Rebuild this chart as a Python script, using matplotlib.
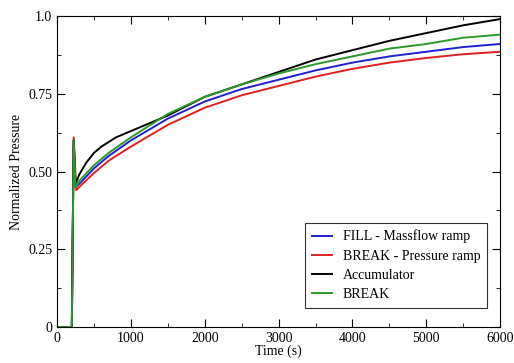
import matplotlib.pyplot as plt
from matplotlib.ticker import MultipleLocator

plt.rcParams["font.family"] = ["Liberation Serif", "DejaVu Serif"]

# time points (s) and normalized pressure
t_fill = [0, 200, 225, 250, 300, 500, 700, 1000, 1500, 2000, 2500, 3000, 3500, 4000, 4500, 5000, 5500, 6000]
p_fill = [0, 0, 0.60, 0.45, 0.46, 0.51, 0.55, 0.60, 0.67, 0.725, 0.765, 0.795, 0.825, 0.85, 0.87, 0.885, 0.90, 0.91]

t_break_p = [0, 200, 225, 260, 300, 500, 700, 1000, 1500, 2000, 2500, 3000, 3500, 4000, 4500, 5000, 5500, 6000]
p_break_p = [0, 0, 0.61, 0.44, 0.45, 0.495, 0.535, 0.58, 0.65, 0.705, 0.745, 0.775, 0.805, 0.83, 0.85, 0.865, 0.877, 0.885]

t_accum = [0, 200, 225, 250, 300, 400, 500, 600, 800, 1000, 1500, 2000, 2500, 3000, 3500, 4000, 4500, 5000, 5500, 6000]
p_accum = [0, 0, 0.60, 0.46, 0.49, 0.53, 0.56, 0.58, 0.61, 0.63, 0.68, 0.74, 0.78, 0.82, 0.86, 0.89, 0.92, 0.945, 0.97, 0.99]

t_break = [0, 200, 225, 250, 300, 500, 700, 1000, 1500, 2000, 2500, 3000, 3500, 4000, 4500, 5000, 5500, 6000]
p_break = [0, 0, 0.60, 0.45, 0.47, 0.52, 0.56, 0.61, 0.685, 0.74, 0.78, 0.815, 0.845, 0.87, 0.895, 0.91, 0.93, 0.94]

fig = plt.figure(figsize=(5.14, 3.63), dpi=100)
ax = fig.add_axes([0.111, 0.099, 0.862, 0.857])

ax.plot(t_fill, p_fill, color="#1f1fd0", lw=1.4, label="FILL - Massflow ramp")
ax.plot(t_break_p, p_break_p, color="#e02020", lw=1.4, label="BREAK - Pressure ramp")
ax.plot(t_accum, p_accum, color="black", lw=1.4, label="Accumulator")
ax.plot(t_break, p_break, color="#2a9a2a", lw=1.4, label="BREAK")

ax.set_xlim(0, 6000)
ax.set_ylim(0, 1.0)
ax.set_xticks([0, 1000, 2000, 3000, 4000, 5000, 6000])
ax.set_yticks([0, 0.25, 0.5, 0.75, 1.0])
ax.set_yticklabels(["0", "0.25", "0.50", "0.75", "1.0"])
ax.xaxis.set_minor_locator(MultipleLocator(500))
ax.yaxis.set_minor_locator(MultipleLocator(0.125))
ax.tick_params(which="both", direction="in", top=True, right=True, labelsize=10)
ax.tick_params(which="major", length=6)
ax.tick_params(which="minor", length=3)

ax.set_xlabel("Time (s)", fontsize=10, labelpad=0)
ax.set_ylabel("Normalized Pressure", fontsize=10)

leg = ax.legend(loc="lower right", bbox_to_anchor=(0.971, 0.061), borderaxespad=0,
                fontsize=10, fancybox=False, edgecolor="black",
                handlelength=1.4, labelspacing=0.45, borderpad=0.5)
leg.get_frame().set_linewidth(0.8)

fig.savefig("out.png", dpi=100)
